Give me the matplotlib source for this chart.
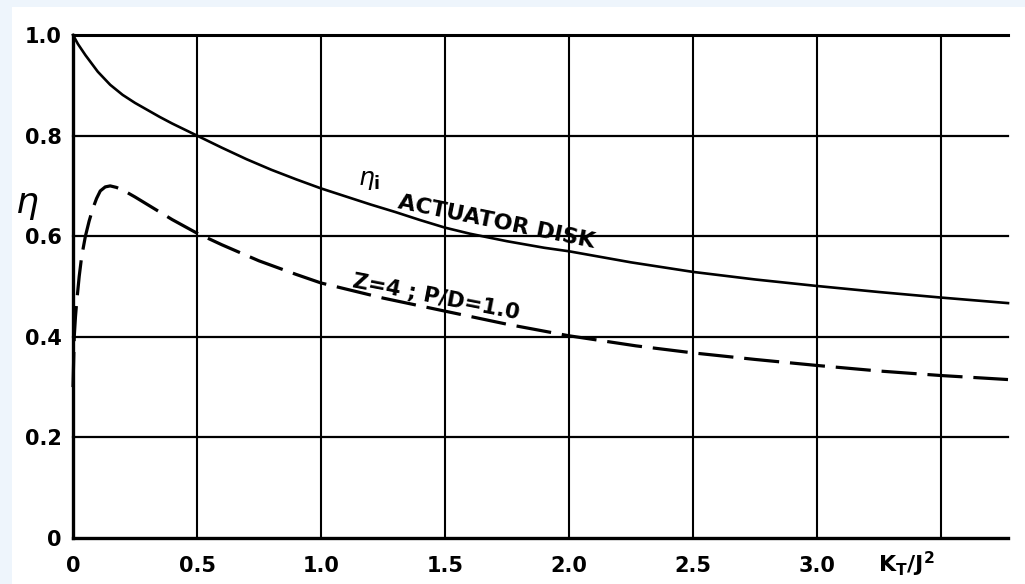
import matplotlib
matplotlib.use('Agg')
import matplotlib.pyplot as plt
from matplotlib.patches import Rectangle

# Ideal (actuator disk) efficiency vs. thrust loading
kt_j2_ideal = [0.0, 0.02, 0.05, 0.1, 0.15, 0.2, 0.25, 0.3, 0.35, 0.4, 0.45,
               0.5, 0.6, 0.7, 0.8, 0.9, 1.0, 1.1, 1.2, 1.3, 1.4, 1.5, 1.6,
               1.75, 1.9, 2.0, 2.25, 2.5, 2.75, 3.0, 3.25, 3.5, 3.77]
eta_ideal = [1.0, 0.982, 0.96, 0.927, 0.901, 0.881, 0.865, 0.851, 0.837,
             0.824, 0.812, 0.80, 0.776, 0.753, 0.732, 0.713, 0.695, 0.679,
             0.663, 0.648, 0.632, 0.617, 0.605, 0.59, 0.577, 0.57, 0.548,
             0.529, 0.514, 0.501, 0.489, 0.478, 0.467]

# Propeller Z=4, P/D=1.0
kt_j2_prop = [0.0, 0.005, 0.01, 0.015, 0.025, 0.035, 0.05, 0.065, 0.08,
              0.095, 0.11, 0.13, 0.15, 0.175, 0.2, 0.25, 0.3, 0.4, 0.5, 0.6,
              0.75, 0.9, 1.0, 1.25, 1.5, 1.75, 2.0, 2.27, 2.5, 2.75, 3.0,
              3.25, 3.5, 3.77]
eta_prop = [0.30, 0.40, 0.44, 0.47, 0.52, 0.56, 0.60, 0.63, 0.655, 0.675,
            0.69, 0.698, 0.70, 0.697, 0.692, 0.678, 0.663, 0.633, 0.606,
            0.583, 0.551, 0.524, 0.507, 0.477, 0.451, 0.425, 0.402, 0.382,
            0.368, 0.355, 0.343, 0.332, 0.323, 0.315]

x_ticks = [0, 0.5, 1.0, 1.5, 2.0, 2.5, 3.0, 3.5]
x_labels = ['0', '0.5', '1.0', '1.5', '2.0', '2.5', '3.0', '']
y_ticks = [0, 0.2, 0.4, 0.6, 0.8, 1.0]
y_labels = ['0', '0.2', '0.4', '0.6', '0.8', '1.0']

plt.rcParams['font.family'] = 'DejaVu Sans'
plt.rcParams['mathtext.fontset'] = 'custom'
plt.rcParams['mathtext.rm'] = 'DejaVu Sans:bold'
plt.rcParams['mathtext.it'] = 'DejaVu Sans:italic'

fig = plt.figure(figsize=(10.25, 5.84), dpi=100, facecolor='#eef5fc')
fig.patches.append(Rectangle((12 / 1025, 0), 1, (584 - 7) / 584,
                             transform=fig.transFigure, facecolor='white',
                             edgecolor='none', zorder=-5))

ax = fig.add_axes([73 / 1025, 46 / 584, 935 / 1025, 503 / 584])
ax.set_facecolor('white')
ax.set_xlim(0, 3.77)
ax.set_ylim(0, 1.0)

ax.plot(kt_j2_ideal, eta_ideal, color='black', lw=1.9, zorder=3, clip_on=False)
ax.plot(kt_j2_prop, eta_prop, color='black', lw=2.3, dashes=(11, 3.4),
        zorder=3, clip_on=False)

# grid
for xv in x_ticks[1:]:
    ax.axvline(xv, color='black', lw=1.5, zorder=1)
for yv in y_ticks[1:]:
    ax.axhline(yv, color='black', lw=1.6 if yv < 1 else 2.2, zorder=1,
               clip_on=False)

for side in ['top', 'right']:
    ax.spines[side].set_visible(False)
for side in ['left', 'bottom']:
    ax.spines[side].set_linewidth(2.4)

ax.set_xticks(x_ticks)
ax.set_xticklabels(x_labels)
ax.set_yticks(y_ticks)
ax.set_yticklabels(y_labels)
ax.tick_params(length=0, labelsize=15)
ax.tick_params(axis='x', pad=13)
ax.tick_params(axis='y', pad=8)
for lab in ax.get_xticklabels() + ax.get_yticklabels():
    lab.set_fontweight('bold')

ax.text(3.36, -0.052, r'$\mathrm{K_T/J^2}$', fontsize=16, ha='center',
        va='center', clip_on=False)
fig.text(27 / 1025, 1 - 205 / 584, r'$\eta$', fontsize=26, ha='center', va='center')

# curve labels
ax.text(1.149, 0.702, r'$\eta_{\mathrm{i}}$', fontsize=18, ha='left', va='baseline')
ax.text(1.306, 0.656, 'ACTUATOR DISK', fontsize=16, fontweight='bold',
        rotation=-11.5, rotation_mode='anchor', ha='left', va='baseline')
ax.text(1.125, 0.498, 'Z=4 ; P/D=1.0', fontsize=15.5, fontweight='bold',
        rotation=-11, rotation_mode='anchor', ha='left', va='baseline')

fig.savefig('out.png', dpi=100, facecolor=fig.get_facecolor())
